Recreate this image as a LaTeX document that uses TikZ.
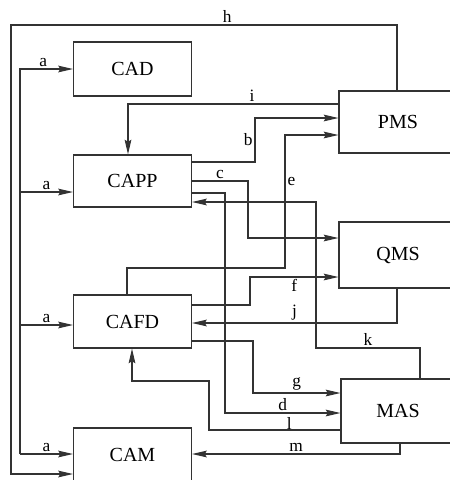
\documentclass[tikz,border=0pt]{standalone}
\usepackage{fontspec}
\setmainfont{Liberation Serif}
\usetikzlibrary{arrows.meta,positioning,calc}
\tikzset{module/.style={draw,rectangle,minimum width=88.5pt,font=\fontsize{15}{17}\selectfont}}
\tikzset{lbl/.style={font=\fontsize{13}{15}\selectfont,inner sep=1.5pt}}

\begin{document}
\begin{tikzpicture}[x=0.75pt, y=-0.75pt, >={Stealth[length=11pt,width=5pt,inset=1.5pt]}, line width=0.85pt, draw=black!80]
\useasboundingbox (0,0) rectangle (450,480);
\clip (0,0) rectangle (450,480);
\node[module, minimum height=40.5pt] (CAD) at (132.5,69) {CAD};
\node[module, minimum height=39pt] (CAPP) at (132.5,181) {CAPP};
\node[module, minimum height=39.75pt] (CAFD) at (132.5,321.5) {CAFD};
\node[module, minimum height=40.5pt] (CAM) at (132.5,455) {CAM};
\node[module, minimum height=46.5pt] (PMS) at (398,122) {PMS};
\node[module, minimum height=49.5pt] (QMS) at (398,255) {QMS};
\node[module, minimum height=48pt, minimum width=85.5pt] (MAS) at (398,411) {MAS};

% input bus
\draw[->] (20,454) |- node[lbl, above, pos=0.72] {a} (CAD.west);
\draw[->] (20,192) -- node[lbl, above] {a} (CAPP.west |- 0,192);
\draw[->] (20,325) -- node[lbl, above] {a} (CAFD.west |- 0,325);
\draw[->] (20,454) -- node[lbl, above] {a} (CAM.west |- 0,454);
\draw[->] (PMS.north -| 397,0) -- (397,25) -- node[lbl, above, pos=0.44] {h} (11,25) -- (11,474) -- (CAM.west |- 0,474);

% links to PMS
\draw[->] (PMS.west |- 0,104) -- node[lbl, above, pos=0.41] {i} (128,104) -- (CAPP.north -| 128,0);
\draw[->] (CAPP.east |- 0,162) -- (255,162) -- node[lbl, left] {b} (255,118) -- (PMS.west |- 0,118);
\draw[->] (CAFD.north -| 127,0) -- (127,268) -- (285,268) -- node[lbl, right, pos=0.65] {e} (285,135) -- (PMS.west |- 0,135);

% links to QMS
\draw[->] (CAPP.east |- 0,181) -- node[lbl, above] {c} (248,181) -- (248,238) -- (QMS.west |- 0,238);
\draw[->] (CAFD.east |- 0,305) -- (250,305) -- (250,277) -- node[lbl, below] {f} (QMS.west |- 0,277);
\draw[->] (QMS.south -| 397,0) -- (397,323) -- node[lbl, above] {j} (CAFD.east |- 0,323);

% links to MAS
\draw[->] (CAPP.east |- 0,193) -- (225,193) -- (225,413) -- node[lbl, above] {d} (MAS.west |- 0,413);
\draw[->] (MAS.north -| 420,0) -- (420,348) -- node[lbl, above] {k} (316,348) -- (316,202) -- (CAPP.east |- 0,202);
\draw[->] (CAFD.east |- 0,341) -- (253,341) -- (253,393) -- node[lbl, above] {g} (MAS.west |- 0,393);
\draw[->] (MAS.west |- 0,430) -- node[lbl, above, pos=0.39, inner sep=0pt] {l} (209,430) -- (209,381) -- (132,381) -- (CAFD.south -| 132,0);
\draw[->] (MAS.south -| 400,0) -- (400,454) -- node[lbl, above] {m} (CAM.east |- 0,454);
\end{tikzpicture}
\end{document}
